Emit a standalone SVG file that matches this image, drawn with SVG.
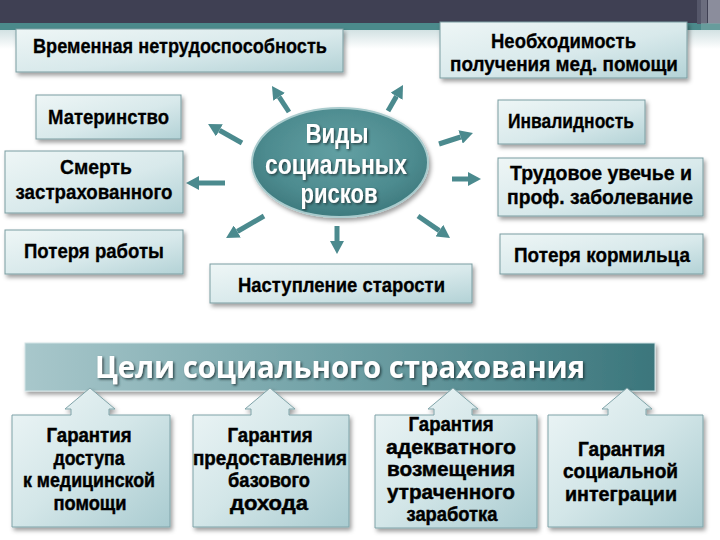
<svg xmlns="http://www.w3.org/2000/svg" width="720" height="540" viewBox="0 0 720 540">
<defs>
<linearGradient id="boxg" x1="0" y1="0" x2="1" y2="1">
<stop offset="0" stop-color="#eef6f6"/>
<stop offset="0.55" stop-color="#d8e9eb"/>
<stop offset="1" stop-color="#b3d2d6"/>
</linearGradient>
<linearGradient id="goalg" x1="0" y1="0" x2="1" y2="1">
<stop offset="0" stop-color="#eef6f7"/>
<stop offset="0.5" stop-color="#d3e6e8"/>
<stop offset="1" stop-color="#a9cbd0"/>
</linearGradient>
<radialGradient id="ellg" cx="0.5" cy="0.4" r="0.6">
<stop offset="0" stop-color="#62a0a3"/>
<stop offset="0.7" stop-color="#4d8b8f"/>
<stop offset="1" stop-color="#3e7a7e"/>
</radialGradient>
<linearGradient id="bang" x1="0" y1="0" x2="1" y2="0">
<stop offset="0" stop-color="#a8c7cb"/>
<stop offset="0.5" stop-color="#6fa0a5"/>
<stop offset="1" stop-color="#3b767c"/>
</linearGradient>
<linearGradient id="stripg" x1="0" y1="0" x2="0" y2="1">
<stop offset="0" stop-color="#c2d7d8"/>
<stop offset="1" stop-color="#ffffff"/>
</linearGradient>
<filter id="sh" x="-10%" y="-15%" width="125%" height="145%">
<feDropShadow dx="2" dy="3" stdDeviation="2" flood-color="#000" flood-opacity="0.38"/>
</filter>
<filter id="tsh" x="-5%" y="-20%" width="115%" height="150%">
<feDropShadow dx="1.5" dy="1.5" stdDeviation="0.8" flood-color="#1b3537" flood-opacity="0.85"/>
</filter>
<marker id="ah" markerUnits="userSpaceOnUse" markerWidth="14" markerHeight="14" refX="0" refY="7" orient="auto">
<path d="M0,0 L13,7 L0,14 z" fill="#4b8a8e"/>
</marker>
<style>
.box{fill:url(#boxg);stroke:#7a9da1;stroke-width:1;filter:url(#sh)}
.goal{fill:url(#goalg);stroke:#7fa3a8;stroke-width:1;filter:url(#sh)}
.t{font-family:"Liberation Sans",Arial,sans-serif;font-weight:bold;font-size:21px;fill:#000;stroke:#000;stroke-width:0.3;text-anchor:middle}
.t2{font-size:20px}
.g{font-family:"Liberation Sans",Arial,sans-serif;font-weight:bold;font-size:20px;fill:#000;stroke:#000;stroke-width:0.45;text-anchor:middle}
.w{font-family:"Liberation Sans",Arial,sans-serif;font-weight:bold;font-size:28px;fill:#fff;text-anchor:middle}
.ban{font-family:"Open Sans","Liberation Sans",sans-serif;font-weight:bold;font-size:31px;fill:#fff;text-anchor:middle}
.arr{stroke:#4b8a8e;stroke-width:5;fill:none;marker-end:url(#ah)}
</style>
</defs>

<!-- background / header -->
<rect x="0" y="0" width="720" height="540" fill="#ffffff"/>
<rect x="0" y="23" width="720" height="26" fill="url(#stripg)"/>
<rect x="0" y="0" width="720" height="24" fill="#3f4053"/>
<rect x="0" y="23" width="720" height="7" fill="#4b8a8b"/>
<rect x="697" y="0" width="4" height="24" fill="#55576a"/>
<rect x="701" y="0" width="6" height="24" fill="#6b6d7e"/>
<rect x="708" y="0" width="12" height="24" fill="#8b8d9c"/>
<rect x="701" y="23" width="19" height="7" fill="#7aa9a9" opacity="0.6"/>

<g id="connectors">
<line class="arr" x1="289" y1="112" x2="279.1" y2="96.9"/>
<line class="arr" x1="388" y1="111" x2="396.5" y2="96.3"/>
<line class="arr" x1="242" y1="143" x2="219.4" y2="130.3"/>
<line class="arr" x1="439" y1="144" x2="460.6" y2="137"/>
<line class="arr" x1="225" y1="183" x2="199" y2="183"/>
<line class="arr" x1="452" y1="179" x2="468" y2="179"/>
<line class="arr" x1="264" y1="216" x2="237.3" y2="231.5"/>
<line class="arr" x1="337" y1="226" x2="337" y2="241"/>
<line class="arr" x1="418" y1="216" x2="439.3" y2="230.6"/>
</g>

<g id="center">
<ellipse cx="340" cy="162.5" rx="88" ry="54.5" fill="url(#ellg)" stroke="#a9cbcd" stroke-width="2" filter="url(#sh)"/>
<g filter="url(#tsh)">
<text class="w" x="337" y="143" textLength="63" lengthAdjust="spacingAndGlyphs">Виды</text>
<text class="w" x="336" y="174" textLength="142" lengthAdjust="spacingAndGlyphs">социальных</text>
<text class="w" x="339" y="203" textLength="77" lengthAdjust="spacingAndGlyphs">рисков</text>
</g>
</g>

<g id="n-vremennaya">
<rect class="box" x="16" y="29" width="327" height="43"/>
<text class="t" x="180" y="53" textLength="294" lengthAdjust="spacingAndGlyphs">Временная нетрудоспособность</text>
</g>
<g id="n-neobhodimost">
<rect class="box" x="440" y="22" width="247" height="56"/>
<text class="t t2" x="563.5" y="48" textLength="145" lengthAdjust="spacingAndGlyphs">Необходимость</text>
<text class="t t2" x="564" y="71" textLength="228" lengthAdjust="spacingAndGlyphs">получения мед. помощи</text>
</g>
<g id="n-materinstvo">
<rect class="box" x="36" y="95" width="145" height="44"/>
<text class="t" x="108.5" y="124" textLength="121" lengthAdjust="spacingAndGlyphs">Материнство</text>
</g>
<g id="n-smert">
<rect class="box" x="5" y="151" width="178" height="62"/>
<text class="t" x="96" y="174" textLength="72" lengthAdjust="spacingAndGlyphs">Смерть</text>
<text class="t" x="94" y="199" textLength="157" lengthAdjust="spacingAndGlyphs">застрахованного</text>
</g>
<g id="n-poterya-raboty">
<rect class="box" x="5" y="230" width="178" height="44"/>
<text class="t" x="94" y="258" textLength="140" lengthAdjust="spacingAndGlyphs">Потеря работы</text>
</g>
<g id="n-invalidnost">
<rect class="box" x="498" y="100" width="147" height="44"/>
<text class="t" x="571" y="128" textLength="126" lengthAdjust="spacingAndGlyphs">Инвалидность</text>
</g>
<g id="n-trudovoe">
<rect class="box" x="498" y="158" width="205" height="58"/>
<text class="t t2" x="601" y="180" textLength="182" lengthAdjust="spacingAndGlyphs">Трудовое увечье и</text>
<text class="t t2" x="600" y="204" textLength="186" lengthAdjust="spacingAndGlyphs">проф. заболевание</text>
</g>
<g id="n-kormilec">
<rect class="box" x="500" y="234" width="203" height="40"/>
<text class="t" x="602" y="262" textLength="176" lengthAdjust="spacingAndGlyphs">Потеря кормильца</text>
</g>
<g id="n-starost">
<rect class="box" x="210" y="264" width="262" height="39"/>
<text class="t" x="341.5" y="292" textLength="207" lengthAdjust="spacingAndGlyphs">Наступление старости</text>
</g>

<g id="banner">
<rect x="25" y="343" width="630" height="48" fill="url(#bang)" stroke="#d2e3e5" stroke-width="1" filter="url(#sh)"/>
<text class="ban" x="340" y="378" textLength="490" lengthAdjust="spacingAndGlyphs" filter="url(#tsh)">Цели социального страхования</text>
</g>

<g id="goal-1">
<path class="goal" d="M12,415 H71 V409 H65 L90,388 L115,409 H109 V415 H170 V527 H12 Z"/>
<text class="g" x="89" y="442" textLength="85" lengthAdjust="spacingAndGlyphs">Гарантия</text>
<text class="g" x="89" y="464.5" textLength="71" lengthAdjust="spacingAndGlyphs">доступа</text>
<text class="g" x="89" y="487" textLength="132" lengthAdjust="spacingAndGlyphs">к медицинской</text>
<text class="g" x="90" y="509.5" textLength="73" lengthAdjust="spacingAndGlyphs">помощи</text>
</g>
<g id="goal-2">
<path class="goal" d="M193,415 H251 V409 H245 L270,388 L295,409 H289 V415 H349 V527 H193 Z"/>
<text class="g" x="270" y="442" textLength="85" lengthAdjust="spacingAndGlyphs">Гарантия</text>
<text class="g" x="270" y="464.5" textLength="154" lengthAdjust="spacingAndGlyphs">предоставления</text>
<text class="g" x="269" y="487" textLength="82" lengthAdjust="spacingAndGlyphs">базового</text>
<text class="g" x="269" y="509.5" textLength="78" lengthAdjust="spacingAndGlyphs">дохода</text>
</g>
<g id="goal-3">
<path class="goal" d="M375,415 H434 V409 H428 L453,388 L478,409 H472 V415 H537 V528 H375 Z"/>
<text class="g" x="451" y="431" textLength="85" lengthAdjust="spacingAndGlyphs">Гарантия</text>
<text class="g" x="451" y="453.5" textLength="130" lengthAdjust="spacingAndGlyphs">адекватного</text>
<text class="g" x="451" y="476" textLength="128" lengthAdjust="spacingAndGlyphs">возмещения</text>
<text class="g" x="451" y="498.5" textLength="128" lengthAdjust="spacingAndGlyphs">утраченного</text>
<text class="g" x="452" y="521" textLength="91" lengthAdjust="spacingAndGlyphs">заработка</text>
</g>
<g id="goal-4">
<path class="goal" d="M548,415 H608 V409 H602 L627,388 L652,409 H646 V415 H703 V527 H548 Z"/>
<text class="g" x="621.5" y="456" textLength="87" lengthAdjust="spacingAndGlyphs">Гарантия</text>
<text class="g" x="620.5" y="478" textLength="115" lengthAdjust="spacingAndGlyphs">социальной</text>
<text class="g" x="621" y="500.5" textLength="112" lengthAdjust="spacingAndGlyphs">интеграции</text>
</g>
</svg>
